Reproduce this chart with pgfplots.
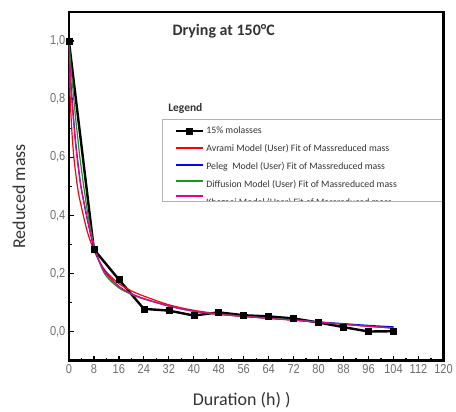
\documentclass[border=0pt]{standalone}
\usepackage{fontspec}
\setmainfont{Carlito}
\newfontfamily\tickfont[FakeStretch=0.85]{Liberation Sans}
\usepackage{pgfplots}
\pgfplotsset{compat=1.18}
\definecolor{lblgray}{HTML}{333333}
\definecolor{tickgray}{HTML}{6E6E6E}
\definecolor{mygreen}{HTML}{159A15}
\begin{document}
\begin{tikzpicture}
\path (-69pt,-49pt) rectangle (387pt,361pt);
\begin{axis}[name=ax, at={(0pt,0pt)}, anchor=south west,
  scale only axis, width=375pt, height=349pt,
  xmin=0, xmax=120, ymin=-0.1, ymax=1.1,
  xtick={0,8,16,24,32,40,48,56,64,72,80,88,96,104,112,120},
  ytick={0,0.2,0.4,0.6,0.8,1.0},
  minor x tick num=1, minor y tick num=1,
  tick pos=left, tick align=inside,
  major tick length=5pt, minor tick length=3pt,
  tick style={black, line width=1.3pt},
  axis line style={line width=2.2pt},
  /pgf/number format/assume math mode=true,
  tick label style={font=\tickfont\fontsize{13}{13}\selectfont, text=tickgray},
  yticklabel style={/pgf/number format/.cd, fixed, fixed zerofill, precision=1, use comma},
  xlabel={Duration (h) )}, ylabel={Reduced mass},
  label style={font=\fontsize{18}{20}\selectfont, text=lblgray},
  xlabel style={at={(axis description cs:0.4613,-0.1146)}, anchor=center},
  ylabel style={at={(axis description cs:-0.1333,0.4713)}, anchor=center},
  legend style={at={(axis description cs:0.2827,0.6719)}, anchor=north west, draw=none, fill=none,
    inner sep=0pt, row sep=9pt, column sep=2pt,
    font=\fontsize{9.8}{11}\selectfont\color{lblgray},
    nodes={inner sep=0pt, text height=7pt, text depth=2pt}},
  legend cell align=left,
  legend image code/.code={\draw[mark repeat=2,mark phase=2,#1] plot coordinates {(0pt,0pt) (13.5pt,0pt) (27pt,0pt)};},
]
\addplot[black, line width=2.4pt, mark=square*, mark size=3pt, mark options={solid, line width=0.5pt}] coordinates {
(0,1.0) (8,0.283) (16,0.179) (24,0.078) (32,0.072) (40,0.055) (48,0.066) (56,0.056) (64,0.052) (72,0.045) (80,0.031) (88,0.015) (96,0.0) (104,0.001)};
\addlegendentry{15\% molasses}
\addplot[red, line width=1.2pt, smooth, legend image post style={overlay, yshift=1pt}] coordinates {
(0,1.0) (0.25,0.86) (0.5,0.78) (1,0.68) (1.5,0.61) (2,0.56) (3,0.48) (4.4,0.41) (6,0.34) (8,0.28) (10,0.237) (12,0.205) (16,0.165) (20,0.14) (24,0.122) (32,0.092) (40,0.073) (48,0.061) (56,0.053) (64,0.046) (72,0.039) (80,0.032) (88,0.025) (96,0.018) (104,0.012)};
\addlegendentry{Avrami Model (User) Fit of Massreduced mass}
\addplot[blue, line width=1.2pt, smooth, legend image post style={overlay, yshift=2pt}] coordinates {
(0,1.0) (0.5,0.88) (1,0.8) (2,0.67) (3,0.57) (4,0.49) (6,0.38) (8,0.29) (10,0.235) (12,0.2) (16,0.155) (20,0.13) (24,0.113) (32,0.088) (40,0.07) (48,0.06) (56,0.052) (64,0.046) (72,0.04) (80,0.033) (88,0.027) (96,0.021) (104,0.016)};
\addlegendentry{Peleg\ \ Model (User) Fit of Massreduced mass}
\addplot[mygreen, line width=1.2pt, smooth, legend image post style={overlay, yshift=4pt}] coordinates {
(0,1.0) (0.5,0.93) (1,0.87) (2,0.75) (3,0.65) (3.5,0.6) (5,0.48) (6,0.41) (7,0.35) (8,0.3) (10,0.232) (12,0.19) (16,0.15) (20,0.128) (24,0.112) (32,0.088) (40,0.07) (48,0.06) (56,0.052) (64,0.046) (72,0.04) (80,0.032) (88,0.025) (96,0.018) (104,0.012)};
\addlegendentry{Diffusion Model (User) Fit of Massreduced mass}
\addplot[magenta, line width=1.2pt, smooth, legend image post style={overlay, yshift=7pt}] coordinates {
(0,1.0) (0.5,0.87) (1,0.79) (2,0.66) (2.5,0.61) (3,0.565) (4,0.49) (6,0.385) (7,0.335) (8,0.295) (10,0.235) (12,0.197) (16,0.155) (20,0.13) (24,0.113) (32,0.088) (40,0.07) (48,0.059) (56,0.052) (64,0.045) (72,0.039) (80,0.032) (88,0.025) (96,0.018) (104,0.012)};
\addlegendentry{Khazaei Model (User) Fit of Massreduced mass}
\node[font=\bfseries\fontsize{16}{18}\selectfont, text=lblgray] at (axis description cs:0.4133,0.946) {Drying at 150°C};
\node[font=\bfseries\fontsize{11.5}{13}\selectfont, text=lblgray, anchor=west] at (axis description cs:0.256,0.722) {Legend};
\end{axis}
\fill[white] (95.3pt,138pt) rectangle (373.5pt,158.6pt);
\draw[gray!60, line width=0.8pt] (374pt,241pt) -- (94pt,241pt) -- (94pt,159pt) -- (374pt,159pt);
\end{tikzpicture}
\end{document}
